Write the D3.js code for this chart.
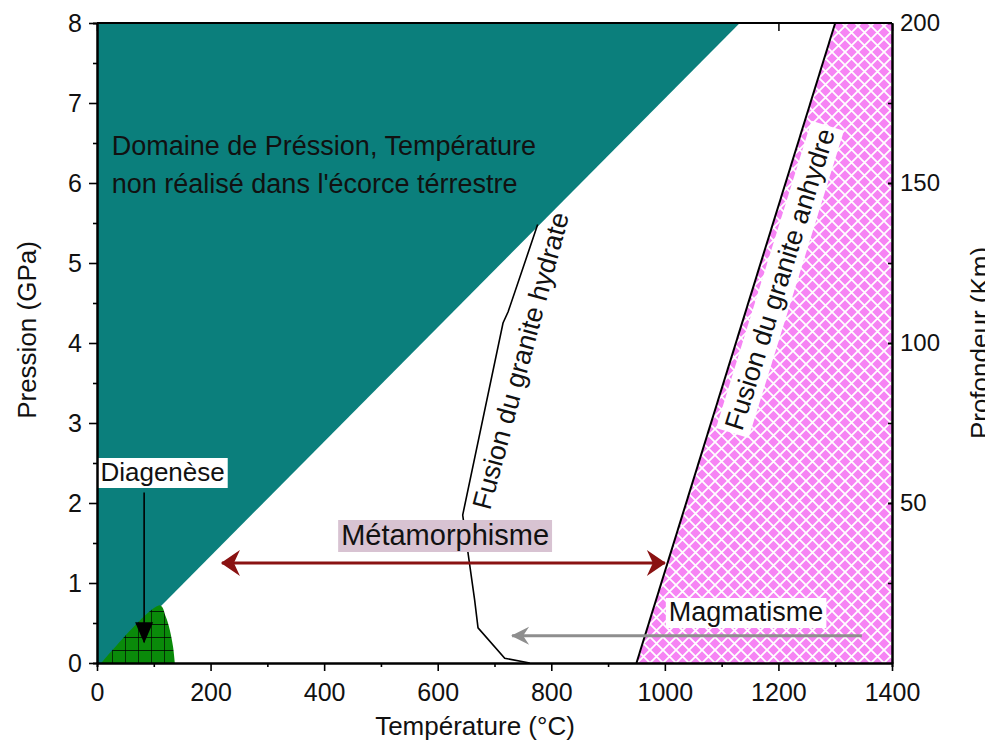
<!DOCTYPE html>
<html>
<head>
<meta charset="utf-8">
<script src="https://d3js.org/d3.v7.min.js"></script>
<style>
    body { margin: 0; background: #fff; }
    svg text { font-family: "Liberation Sans", Arial, sans-serif; fill: #111; }
    .axis path, .axis line { stroke: #000; }
</style>
</head>
<body>
<script>

    // axes
    var tempTicks = [0, 200, 400, 600, 800, 1000, 1200, 1400];
    var pressTicks = [0, 1, 2, 3, 4, 5, 6, 7, 8];
    var depthTicks = [50, 100, 150, 200];

    // zones (T in °C, P in GPa)
    var unrealT = [0, 12, 111, 1132, 0];
    var unrealP = [0, 0, 0.7, 8, 8];
    var diagT = [8, 111, 121, 128, 134, 137];
    var diagP = [0, 0.72, 0.58, 0.42, 0.2, 0];
    var hydT = [776, 724, 715, 644, 665, 671, 718, 762];
    var hydP = [5.48, 4.39, 4.25, 1.85, 0.79, 0.44, 0.06, 0];
    var anhT = [950, 1300];
    var anhP = [0, 8];
    var magmaT = [950, 1300, 1400, 1400];
    var magmaP = [0, 8, 8, 0];

    // arrows
    var metaT = [220, 1000], metaP = 1.25;
    var magArrowT = [1347, 731], magArrowP = 0.34;
    var diagArrowT = 83, diagArrowP = [2.13, 0.26];

    var W = 985, H = 749;

    var x = d3.scaleLinear().domain([0, 1400]).range([97, 892]);
    var y = d3.scaleLinear().domain([0, 8]).range([663, 23]);
    var yDepth = d3.scaleLinear().domain([0, 200]).range([663, 23]);

    var svg = d3.select("body").append("svg")
        .attr("width", W)
        .attr("height", H);

    var defs = svg.append("defs");

    // green grid for diagenese
    var pg = defs.append("pattern").attr("id", "grid")
        .attr("patternUnits", "userSpaceOnUse")
        .attr("x", x(0) + 2).attr("y", y(0))
        .attr("width", 13).attr("height", 13);
    pg.append("rect").attr("width", 13).attr("height", 13).attr("fill", "#0a8a0a");
    pg.append("path").attr("d", "M0,0H13M0,0V13")
        .attr("stroke", "#000").attr("stroke-width", 1.3);

    // pink cross hatch for magmatism
    var ph = defs.append("pattern").attr("id", "hatch")
        .attr("patternUnits", "userSpaceOnUse")
        .attr("width", 13).attr("height", 13);
    ph.append("rect").attr("width", 13).attr("height", 13).attr("fill", "#f684f4");
    ph.append("path").attr("d", "M0,0L13,13M13,0L0,13")
        .attr("stroke", "#fff").attr("stroke-width", 1.8);

    function marker(id, d, color) {
        defs.append("marker").attr("id", id)
            .attr("markerUnits", "userSpaceOnUse")
            .attr("viewBox", "-24 -16 26 32")
            .attr("refX", 0).attr("refY", 0)
            .attr("markerWidth", 26).attr("markerHeight", 32)
            .attr("orient", "auto-start-reverse")
            .append("path").attr("d", d).attr("fill", color);
    }
    marker("redHead", "M1,0L-18,-13L-12,0L-18,13Z", "#8a1212");
    marker("grayHead", "M1,0L-17,-9L-11,0L-17,9Z", "#8e8e8e");
    marker("blackHead", "M1,0L-20,-9L-20,9Z", "#000");

    // top ticks (inward), under the fills
    svg.append("g")
        .attr("class", "axis")
        .attr("transform", "translate(0," + y(8) + ")")
        .call(d3.axisTop(x).tickValues(tempTicks).tickSize(-8).tickSizeOuter(0).tickFormat(""))
        .call(function (g) { g.selectAll("line").attr("stroke-width", 1.5); g.select(".domain").remove(); });

    function poly(ts, ps) {
        return ts.map(function (t, i) { return [x(t), y(ps[i])]; });
    }
    var line = d3.line();

    svg.append("path")
        .attr("d", line(poly(unrealT, unrealP)) + "Z")
        .attr("fill", "#0b7f7c");

    svg.append("path")
        .attr("d", d3.line().curve(d3.curveCatmullRom)(poly(diagT, diagP)) + "Z")
        .attr("fill", "url(#grid)");

    svg.append("path")
        .attr("d", line(poly(magmaT, magmaP)) + "Z")
        .attr("fill", "url(#hatch)");

    // melting curves
    svg.append("path")
        .attr("d", line(poly(hydT, hydP)))
        .attr("fill", "none").attr("stroke", "#000").attr("stroke-width", 1.6);

    svg.append("path")
        .attr("d", line(poly(anhT, anhP)))
        .attr("fill", "none").attr("stroke", "#000").attr("stroke-width", 2);

    // text in the unrealised domain
    svg.append("text").attr("x", x(26)).attr("y", y(6.35))
        .style("font-size", "27px").text("Domaine de Préssion, Température");
    svg.append("text").attr("x", x(26)).attr("y", y(5.88))
        .style("font-size", "27px").text("non réalisé dans l'écorce térrestre");

    // labels with a box behind them
    function boxLabel(tx, ty, txt, size, fill, anchor) {
        var g = svg.append("g");
        var r = g.append("rect").attr("fill", fill);
        var t = g.append("text").attr("x", tx).attr("y", ty)
            .style("font-size", size + "px")
            .attr("text-anchor", anchor || "start")
            .text(txt);
        var b = t.node().getBBox();
        r.attr("x", b.x - 3).attr("y", b.y + 1).attr("width", b.width + 6).attr("height", b.height);
        return g;
    }

    boxLabel(x(6), y(2.275), "Diagenèse", 26, "#fff");
    boxLabel(x(613), y(1.475), "Métamorphisme", 29, "#d8c3d2", "middle");
    boxLabel(x(1007), y(0.525), "Magmatisme", 27, "#fff");

    // rotated labels along the melting curves
    var angAnh = Math.atan2(y(anhP[1]) - y(anhP[0]), x(anhT[1]) - x(anhT[0])) * 180 / Math.PI;
    var ga = svg.append("g")
        .attr("transform", "translate(" + x(1136) + "," + y(2.89) + ") rotate(" + angAnh + ")");
    var ra = ga.append("rect").attr("fill", "#fff");
    var ta = ga.append("text").style("font-size", "27px").text("Fusion du granite anhydre");
    var ba = ta.node().getBBox();
    ra.attr("x", ba.x - 4).attr("y", ba.y - 2).attr("width", ba.width + 8).attr("height", ba.height + 4);

    svg.append("text")
        .attr("transform", "translate(" + x(692) + "," + y(1.9) + ") rotate(-75)")
        .style("font-size", "27px")
        .text("Fusion du granite hydrate");

    // arrows
    svg.append("line")
        .attr("x1", x(metaT[0])).attr("x2", x(metaT[1]))
        .attr("y1", y(metaP)).attr("y2", y(metaP))
        .attr("stroke", "#8a1212").attr("stroke-width", 3)
        .attr("marker-start", "url(#redHead)")
        .attr("marker-end", "url(#redHead)");

    svg.append("line")
        .attr("x1", x(magArrowT[0])).attr("x2", x(magArrowT[1]))
        .attr("y1", y(magArrowP)).attr("y2", y(magArrowP))
        .attr("stroke", "#8e8e8e").attr("stroke-width", 3)
        .attr("marker-end", "url(#grayHead)");

    svg.append("line")
        .attr("x1", x(diagArrowT)).attr("x2", x(diagArrowT))
        .attr("y1", y(diagArrowP[0])).attr("y2", y(diagArrowP[1]))
        .attr("stroke", "#000").attr("stroke-width", 1.6)
        .attr("marker-end", "url(#blackHead)");

    // axes
    var fmt = d3.format("d");
    function styleAxis(g, size) {
        g.select(".domain").attr("stroke-width", 2);
        g.selectAll(".tick line").attr("stroke-width", 1.6);
        g.selectAll("text").style("font-size", size + "px").attr("fill", "#111");
    }

    svg.append("g").attr("class", "axis")
        .attr("transform", "translate(" + x(0) + ",0)")
        .call(d3.axisLeft(y).tickValues(d3.range(0.5, 8, 1)).tickSize(4).tickFormat(""))
        .call(function (g) { styleAxis(g, 25); });

    svg.append("g").attr("class", "axis")
        .attr("transform", "translate(0," + y(0) + ")")
        .call(d3.axisBottom(x).tickValues(d3.range(100, 1400, 200)).tickSize(4).tickFormat(""))
        .call(function (g) { styleAxis(g, 25); });

    svg.append("g").attr("class", "axis")
        .attr("transform", "translate(" + x(0) + ",0)")
        .call(d3.axisLeft(y).tickValues(pressTicks).tickSize(8).tickSizeOuter(0).tickPadding(7).tickFormat(fmt))
        .call(function (g) { styleAxis(g, 25); });

    svg.append("g").attr("class", "axis")
        .attr("transform", "translate(0," + y(0) + ")")
        .call(d3.axisBottom(x).tickValues(tempTicks).tickSize(8).tickSizeOuter(0).tickPadding(12).tickFormat(fmt))
        .call(function (g) { styleAxis(g, 25); });

    svg.append("g").attr("class", "axis")
        .attr("transform", "translate(" + x(1400) + ",0)")
        .call(d3.axisRight(yDepth).tickValues(d3.range(25, 200, 25)).tickSize(-4).tickSizeOuter(0).tickFormat(""))
        .call(function (g) { styleAxis(g, 24); });

    svg.append("g").attr("class", "axis")
        .attr("transform", "translate(" + x(1400) + ",0)")
        .call(d3.axisRight(yDepth).tickValues(depthTicks).tickSize(-4).tickSizeOuter(0).tickPadding(8).tickFormat(fmt))
        .call(function (g) { styleAxis(g, 24); });

    // top frame line
    svg.append("line")
        .attr("x1", x(0)).attr("x2", x(1400))
        .attr("y1", y(8)).attr("y2", y(8))
        .attr("stroke", "#000").attr("stroke-width", 2);

    // axis titles
    svg.append("text")
        .attr("x", 475).attr("y", 735)
        .attr("text-anchor", "middle")
        .style("font-size", "26px")
        .text("Température (°C)");

    svg.append("text")
        .attr("transform", "translate(36,330) rotate(-90)")
        .attr("text-anchor", "middle")
        .style("font-size", "26px")
        .text("Pression (GPa)");

    svg.append("text")
        .attr("transform", "translate(989,343) rotate(-90)")
        .attr("text-anchor", "middle")
        .style("font-size", "26px")
        .text("Profondeur (Km)");

</script>
</body>
</html>
